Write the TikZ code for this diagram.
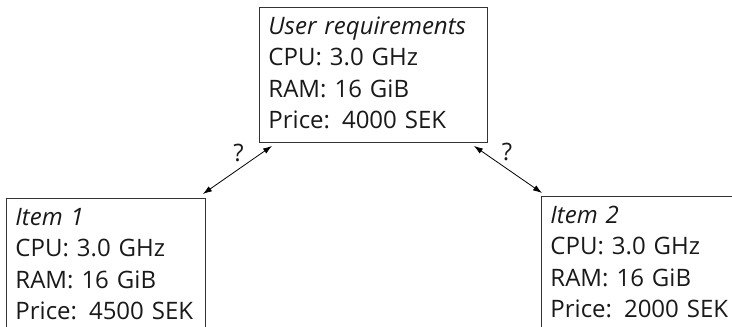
\documentclass[tikz,border=0pt]{standalone}
\usepackage{fontspec}
\setmainfont{Open Sans}
\usetikzlibrary{arrows.meta}
\newcommand\boxline[1]{\strut\mbox{#1}}
\tikzset{
  itembox/.style={draw=black!80, line width=0.9pt, rectangle, anchor=north west,
    minimum width=#1, minimum height=135pt, inner xsep=9pt, inner ysep=0pt,
    align=left, font=\fontsize{24}{31.5}\selectfont, text=black!90},
  itembox/.default=199pt,
  link/.style={{Latex[length=9pt,width=6pt]}-{Latex[length=9pt,width=6pt]}, line width=0.8pt},
  qmark/.style={font=\fontsize{24}{28}\selectfont, text=black!90}
}
\begin{document}
\begin{tikzpicture}[x=1pt,y=-1pt]
\clip (0,0) rectangle (732,327);
\fill[white] (0,0) rectangle (732,327);
\node[itembox=228pt, text width=210pt] (user) at (259,7)
  {\boxline{\textit{User requirements}}\\\boxline{CPU: 3.0 GHz}\\\boxline{RAM: 16 GiB}\\\boxline{Price: 4000 SEK}};
\node[itembox, text width=181pt] (item1) at (6,198)
  {\boxline{\textit{Item 1}}\\\boxline{CPU: 3.0 GHz}\\\boxline{RAM: 16 GiB}\\\boxline{Price: 4500 SEK}};
\node[itembox, text width=181pt] (item2) at (541,196)
  {\boxline{\textit{Item 2}}\\\boxline{CPU: 3.0 GHz}\\\boxline{RAM: 16 GiB}\\\boxline{Price: 2000 SEK}};
\draw[link] ([xshift=-3pt,yshift=4pt]item1.north east) -- node[qmark, midway, xshift=1pt, yshift=17pt] (q1) {?} ([xshift=13pt,yshift=-3pt]user.south west);
\draw[link] ([xshift=-14pt,yshift=-3pt]user.south east) -- node[qmark, midway, xshift=-1pt, yshift=17pt] (q2) {?} ([xshift=1pt,yshift=3pt]item2.north west);
\end{tikzpicture}
\end{document}
